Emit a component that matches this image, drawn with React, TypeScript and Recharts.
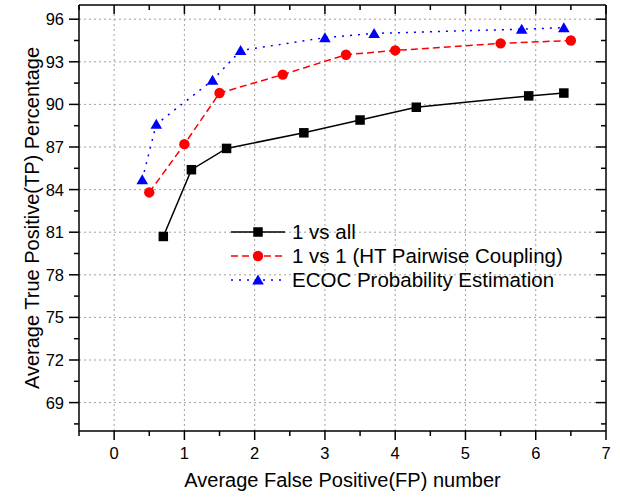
import React from 'react';
import { LineChart, Line, XAxis, YAxis, ReferenceLine, Legend, Label } from 'recharts';

// x = average false positives, y = true positive %
const oneVsAllX = [0.7, 1.1, 1.6, 2.7, 3.5, 4.3, 5.9, 6.4];
const oneVsAllY = [80.7, 85.4, 86.9, 88.0, 88.9, 89.8, 90.6, 90.8];
const oneVsOneX = [0.5, 1.0, 1.5, 2.4, 3.3, 4.0, 5.5, 6.5];
const oneVsOneY = [83.8, 87.2, 90.8, 92.1, 93.5, 93.8, 94.3, 94.5];
const ecocX = [0.4, 0.6, 1.4, 1.8, 3.0, 3.7, 5.8, 6.4];
const ecocY = [84.7, 88.6, 91.7, 93.8, 94.7, 95.0, 95.3, 95.4];

const xTicks = [-0.5, 0, 0.5, 1, 1.5, 2, 2.5, 3, 3.5, 4, 4.5, 5, 5.5, 6, 6.5, 7];
const xLabels = [0, 1, 2, 3, 4, 5, 6, 7];
const yTicks = [67.5, 69, 70.5, 72, 73.5, 75, 76.5, 78, 79.5, 81, 82.5, 84, 85.5, 87, 88.5, 90, 91.5, 93, 94.5, 96];
const yLabels = [69, 72, 75, 78, 81, 84, 87, 90, 93, 96];
const xGrid = [0, 1, 2, 3, 4, 5, 6];
const yGrid = [69, 72, 75, 78, 81, 84, 87, 90, 93, 96];

const seriesNames = ['1 vs all', '1 vs 1 (HT Pairwise Coupling)', 'ECOC Probability Estimation'];

const FONT = '"Liberation Sans", Arial, Helvetica, sans-serif';

const toPoints = (xs: number[], ys: number[]) => xs.map((x, i) => ({ x, y: ys[i] }));

const Square = ({ cx, cy }: any) =>
  cx == null ? null : <rect x={cx - 4.75} y={cy - 4.75} width={9.5} height={9.5} fill="#000" />;
const Circle = ({ cx, cy }: any) =>
  cx == null ? null : <circle cx={cx} cy={cy} r={5.2} fill="#ff0000" />;
const Triangle = ({ cx, cy }: any) =>
  cx == null ? null : (
    <polygon points={`${cx},${cy - 5.5} ${cx - 5.8},${cy + 4.5} ${cx + 5.8},${cy + 4.5}`} fill="#0000ff" />
  );

const series = [
  { name: seriesNames[0], data: toPoints(oneVsAllX, oneVsAllY), color: '#000000', dash: undefined, Dot: Square },
  { name: seriesNames[1], data: toPoints(oneVsOneX, oneVsOneY), color: '#ff0000', dash: '7 4', Dot: Circle },
  { name: seriesNames[2], data: toPoints(ecocX, ecocY), color: '#0000ff', dash: '2 6', Dot: Triangle },
];

const BottomTick = ({ x, y, payload }: any) => {
  const major = xLabels.includes(payload.value);
  return (
    <g>
      <line x1={x} x2={x} y1={y} y2={y + (major ? 9 : 5)} stroke="#000" strokeWidth={1.5} />
      {major && (
        <text x={x} y={y + 22} textAnchor="middle" dominantBaseline="central" fontSize={16.5} fontFamily={FONT} fill="#000">
          {payload.value}
        </text>
      )}
    </g>
  );
};

const TopTick = ({ x, y, payload }: any) => {
  const major = xLabels.includes(payload.value);
  return <line x1={x} x2={x} y1={y} y2={y + (major ? 9 : 5)} stroke="#000" strokeWidth={1.5} />;
};

const LeftTick = ({ x, y, payload }: any) => {
  const major = yLabels.includes(payload.value);
  return (
    <g>
      <line x1={x} x2={x - (major ? 10 : 5)} y1={y} y2={y} stroke="#000" strokeWidth={1.5} />
      {major && (
        <text x={x - 15} y={y} textAnchor="end" dominantBaseline="central" fontSize={16.5} fontFamily={FONT} fill="#000">
          {payload.value}
        </text>
      )}
    </g>
  );
};

const RightTick = ({ x, y, payload }: any) => {
  const major = yLabels.includes(payload.value);
  return <line x1={x} x2={x - (major ? 10 : 5)} y1={y} y2={y} stroke="#000" strokeWidth={1.5} />;
};

const renderLegend = () => (
  <div style={{ fontFamily: FONT, fontSize: 20.5, color: '#000' }}>
    {series.map((s) => (
      <div key={s.name} style={{ display: 'flex', alignItems: 'center', height: 24 }}>
        <svg width={60} height={20} style={{ marginRight: 3 }}>
          <line x1={2} x2={56} y1={10} y2={10} stroke={s.color} strokeWidth={1.5} strokeDasharray={s.dash} />
          <s.Dot cx={29} cy={10} />
        </svg>
        <span>{s.name}</span>
      </div>
    ))}
  </div>
);

const axisLine = { stroke: '#000', strokeWidth: 1.5 };

export default function App() {
  return (
    <div style={{ position: 'absolute', left: 0, top: 0, width: 620, height: 498, background: '#fff' }}>
      <LineChart width={620} height={498} margin={{ top: 0, right: 0, bottom: 0, left: 0 }}>
        <XAxis
          xAxisId="b"
          dataKey="x"
          type="number"
          domain={[-0.5, 7]}
          ticks={xTicks}
          interval={0}
          allowDataOverflow
          height={67}
          tickSize={0}
          tickMargin={0}
          tickLine={false}
          axisLine={axisLine}
          tick={<BottomTick />}
        >
          <Label value="Average False Positive(FP) number" position="center" dy={15} fontSize={20} fontFamily={FONT} fill="#000" />
        </XAxis>
        <XAxis
          xAxisId="t"
          orientation="top"
          dataKey="x"
          type="number"
          domain={[-0.5, 7]}
          ticks={xTicks}
          interval={0}
          allowDataOverflow
          height={5}
          tickSize={0}
          tickMargin={0}
          tickLine={false}
          axisLine={axisLine}
          tick={<TopTick />}
        />
        <YAxis
          yAxisId="l"
          type="number"
          domain={[67, 97]}
          ticks={yTicks}
          interval={0}
          allowDataOverflow
          width={79}
          tickSize={0}
          tickMargin={0}
          tickLine={false}
          axisLine={axisLine}
          tick={<LeftTick />}
        >
          <Label value="Average True Positive(TP) Percentage" angle={-90} position="center" dx={-8} fontSize={20} fontFamily={FONT} fill="#000" />
        </YAxis>
        <YAxis
          yAxisId="r"
          orientation="right"
          type="number"
          domain={[67, 97]}
          ticks={yTicks}
          interval={0}
          allowDataOverflow
          width={14}
          tickSize={0}
          tickMargin={0}
          tickLine={false}
          axisLine={axisLine}
          tick={<RightTick />}
        />
        {xGrid.map((v) => (
          <ReferenceLine key={'gx' + v} x={v} xAxisId="b" yAxisId="l" stroke="#a0a0a0" strokeDasharray="2 3" strokeWidth={1} />
        ))}
        {yGrid.map((v) => (
          <ReferenceLine key={'gy' + v} y={v} xAxisId="b" yAxisId="l" stroke="#a0a0a0" strokeDasharray="2 3" strokeWidth={1} />
        ))}
        {series.map((s) => (
          <Line
            key={s.name}
            name={s.name}
            data={s.data}
            dataKey="y"
            xAxisId="b"
            yAxisId="l"
            type="linear"
            stroke={s.color}
            strokeWidth={1.5}
            strokeDasharray={s.dash}
            dot={<s.Dot />}
            activeDot={false}
            isAnimationActive={false}
          />
        ))}
        <Legend
          content={renderLegend}
          layout="horizontal"
          verticalAlign="middle"
          align="center"
          wrapperStyle={{ left: 229, top: 220, width: 385 }}
        />
      </LineChart>
    </div>
  );
}
